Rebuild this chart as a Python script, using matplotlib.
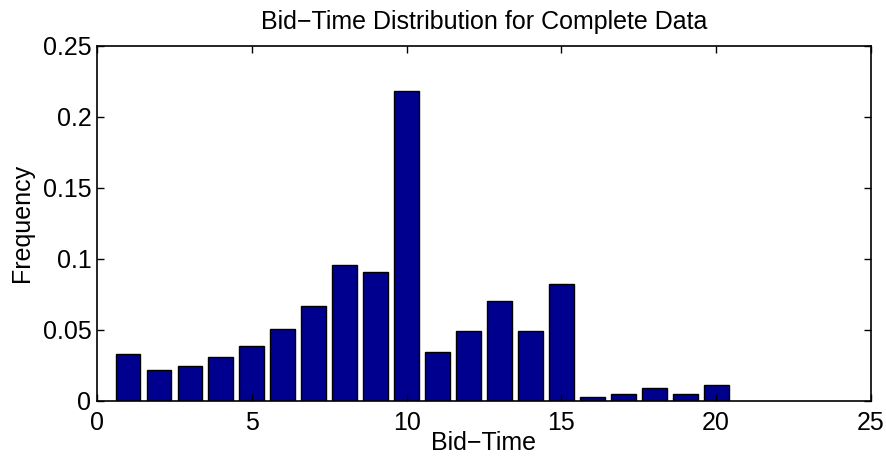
import matplotlib
matplotlib.use('Agg')
import matplotlib.pyplot as plt
import numpy as np

plt.rcParams['font.family'] = ['Liberation Sans', 'DejaVu Sans']

bid_time = np.arange(1, 21)
freq = [0.0333, 0.0218, 0.0249, 0.0310, 0.0390, 0.0505, 0.0669, 0.0958, 0.0910, 0.2180,
        0.0343, 0.0490, 0.0704, 0.0490, 0.0824, 0.0030, 0.0051, 0.0092, 0.0051, 0.0113]

fig = plt.figure(figsize=(8.86, 4.58), dpi=100)
ax = fig.add_axes([0.1095, 0.1245, 0.8735, 0.7757])

ax.bar(bid_time, freq, width=0.8, color='#00008F', edgecolor='black', linewidth=1.0)

ax.set_xlim(0, 25)
ax.set_ylim(0, 0.25)
ax.set_xticks([0, 5, 10, 15, 20, 25])
ax.set_yticks([0, 0.05, 0.1, 0.15, 0.2, 0.25])
ax.set_yticklabels(['0', '0.05', '0.1', '0.15', '0.2', '0.25'])
ax.tick_params(direction='in', top=True, right=True, length=5, width=1, labelsize=18)
ax.tick_params(axis='y', pad=4)
ax.tick_params(axis='x', pad=7)
for s in ax.spines.values():
    s.set_linewidth(1.2)

ax.set_title('Bid\u2212Time Distribution for Complete Data', fontsize=18, pad=12)
ax.set_xlabel('Bid\u2212Time', fontsize=18, labelpad=-3)
ax.set_ylabel('Frequency', fontsize=18, labelpad=6)

fig.savefig('out.png', dpi=100)
